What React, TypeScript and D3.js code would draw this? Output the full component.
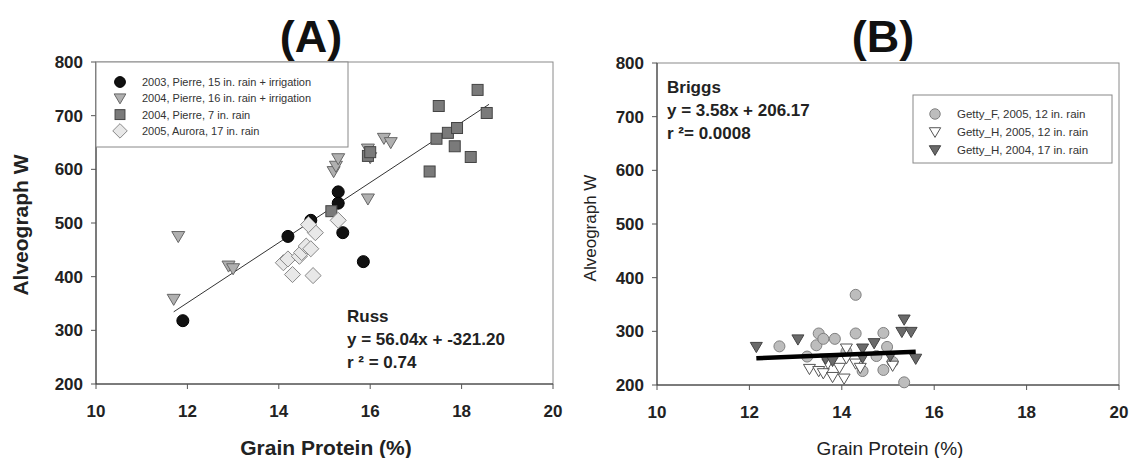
import * as d3 from 'd3'
import React from 'react'

// ---- data ----
const xTicks = [10, 12, 14, 16, 18, 20]
const yTicks = [200, 300, 400, 500, 600, 700, 800]

// panel A
const pierre2003 = [
  [11.9, 318], [14.2, 475], [14.7, 505], [15.3, 558], [15.3, 537], [15.4, 482], [15.85, 428]
]
const pierre2004irr = [
  [11.7, 358], [11.8, 475], [12.9, 420], [13.0, 415], [15.2, 596], [15.25, 606], [15.3, 620],
  [15.95, 545], [15.95, 638], [16.0, 622], [16.3, 658], [16.45, 650]
]
const pierre2004dry = [
  [15.15, 522], [15.95, 625], [16.0, 632], [17.3, 596], [17.45, 657], [17.5, 718], [17.7, 668],
  [17.85, 643], [17.9, 677], [18.2, 623], [18.35, 748], [18.55, 705]
]
const aurora2005 = [
  [14.1, 426], [14.2, 433], [14.3, 404], [14.45, 438], [14.5, 445], [14.6, 457], [14.7, 452],
  [14.75, 402], [14.8, 482], [14.65, 497], [15.3, 505]
]
const russRange = [11.7, 18.6]
const russFit = { slope: 56.04, intercept: -321.2 }

// panel B
const gettyF2005 = [
  [12.65, 272], [13.25, 253], [13.45, 274], [13.5, 296], [13.6, 286], [13.85, 286], [14.3, 368],
  [14.3, 296], [14.45, 226], [14.75, 254], [14.9, 297], [14.9, 228], [14.98, 271], [15.1, 243],
  [15.35, 205], [14.1, 262]
]
const gettyH2005 = [
  [13.3, 230], [13.5, 226], [13.6, 222], [13.8, 215], [13.95, 232], [14.05, 212], [14.1, 268],
  [14.1, 250], [14.3, 240], [14.4, 232], [15.1, 236], [13.7, 240]
]
const gettyH2004 = [
  [12.15, 271], [13.05, 285], [13.65, 249], [13.8, 245], [14.45, 268], [14.45, 251], [14.7, 278],
  [15.05, 254], [15.3, 299], [15.35, 322], [15.5, 299], [15.6, 249]
]
const briggsRange = [12.15, 15.6]
const briggsFit = { slope: 3.58, intercept: 206.17 }

const legendA = [
  '2003, Pierre, 15 in. rain + irrigation',
  '2004, Pierre, 16 in. rain + irrigation',
  '2004, Pierre, 7 in. rain',
  '2005, Aurora, 17 in. rain'
]
const legendB = ['Getty_F, 2005, 12 in. rain', 'Getty_H, 2005, 12 in. rain', 'Getty_H, 2004, 17 in. rain']

const FONT = "'Liberation Sans', Arial, sans-serif"

// marker shapes
const Marker = ({ kind, x, y, s, fill, stroke }: any) => {
  if (kind === 'circle') return <circle cx={x} cy={y} r={s / 2} fill={fill} stroke={stroke} strokeWidth={1} />
  if (kind === 'square')
    return <rect x={x - s / 2} y={y - s / 2} width={s} height={s} fill={fill} stroke={stroke} strokeWidth={1} />
  if (kind === 'diamond') {
    const h = s * 0.62
    return (
      <path d={`M${x},${y - h}L${x + h},${y}L${x},${y + h}L${x - h},${y}Z`} fill={fill} stroke={stroke} strokeWidth={1} />
    )
  }
  // down triangle
  const h = s * 0.5
  return (
    <path
      d={`M${x - h},${y - h * 0.75}L${x + h},${y - h * 0.75}L${x},${y + h * 0.95}Z`}
      fill={fill}
      stroke={stroke}
      strokeWidth={1}
    />
  )
}

const Axes = ({ x, y, bold }: any) => {
  const [x0, x1] = x.range()
  const [y0, y1] = y.range()
  return (
    <g fontFamily={FONT}>
      <rect x={x0} y={y1} width={x1 - x0} height={y0 - y1} fill='none' stroke='#8a8a8a' strokeWidth={1} />
      <line x1={x0} x2={x0} y1={y1} y2={y0} stroke='#333' />
      <line x1={x0} x2={x1} y1={y0} y2={y0} stroke='#333' />
      {yTicks.map((t) => (
        <g key={'y' + t}>
          <line x1={x0 - 5} x2={x0} y1={y(t)} y2={y(t)} stroke='#555' />
          <text x={x0 - 13} y={y(t) + 6} textAnchor='end' fontSize={17} fontWeight='bold' fill='#222'>
            {t}
          </text>
        </g>
      ))}
      {xTicks.map((t) => (
        <g key={'x' + t}>
          <line x1={x(t)} x2={x(t)} y1={y0} y2={y0 + 5} stroke='#555' />
          <text x={x(t)} y={y0 + 33} textAnchor='middle' fontSize={17} fontWeight='bold' fill='#222'>
            {t}
          </text>
        </g>
      ))}
    </g>
  )
}

export default function App() {
  const xA = d3.scaleLinear().domain([10, 20]).range([96, 553])
  const yA = d3.scaleLinear().domain([200, 800]).range([384, 62])
  const xB = d3.scaleLinear().domain([10, 20]).range([657, 1119])
  const yB = d3.scaleLinear().domain([200, 800]).range([385, 63])

  const fitLine = (x: any, y: any, range: number[], fit: any) =>
    d3.line<number>()
      .x((v) => x(v))
      .y((v) => y(fit.slope * v + fit.intercept))(range) || ''

  const seriesA = [
    { data: pierre2003, kind: 'circle', fill: '#111', stroke: '#000', s: 12 },
    { data: pierre2004irr, kind: 'tri', fill: '#b0b0b0', stroke: '#666', s: 13 },
    { data: pierre2004dry, kind: 'square', fill: '#7a7a7a', stroke: '#444', s: 11 },
    { data: aurora2005, kind: 'diamond', fill: '#e8e8e8', stroke: '#888', s: 13 }
  ]
  const seriesB = [
    { data: gettyF2005, kind: 'circle', fill: '#bdbdbd', stroke: '#808080', s: 11 },
    { data: gettyH2005, kind: 'tri', fill: '#ffffff', stroke: '#555', s: 12 },
    { data: gettyH2004, kind: 'tri', fill: '#6a6a6a', stroke: '#444', s: 12 }
  ]

  return (
    <svg
      width={1143}
      height={458}
      style={{ position: 'absolute', left: 0, top: 0, background: '#fff' }}
      fontFamily={FONT}
    >
      <rect width={1143} height={458} fill='#fff' />

      {/* ---------- panel A ---------- */}
      <text x={311} y={52} textAnchor='middle' fontSize={45} fontWeight='bold' fill='#111'>(A)</text>
      <Axes x={xA} y={yA} />
      <text
        transform={`translate(28,${225}) rotate(-90)`}
        textAnchor='middle'
        fontSize={21}
        fontWeight='bold'
        fill='#222'
      >
        Alveograph W
      </text>
      <text x={326} y={455} textAnchor='middle' fontSize={21} fontWeight='bold' fill='#222'>
        Grain Protein (%)
      </text>

      <path d={fitLine(xA, yA, russRange, russFit)} stroke='#333' strokeWidth={1} fill='none' />
      {seriesA.map((s, i) => (
        <g key={'sa' + i}>
          {s.data.map((d, j) => (
            <Marker key={j} kind={s.kind} x={xA(d[0])} y={yA(d[1])} s={s.s} fill={s.fill} stroke={s.stroke} />
          ))}
        </g>
      ))}

      <rect x={96} y={62} width={252} height={85} fill='#fff' stroke='#888' strokeWidth={1} />
      {legendA.map((t, i) => (
        <g key={'la' + i}>
          <Marker
            kind={seriesA[i].kind}
            x={120}
            y={82 + i * 16.3}
            s={seriesA[i].s * 0.9}
            fill={seriesA[i].fill}
            stroke={seriesA[i].stroke}
          />
          <text x={142} y={86 + i * 16.3} fontSize={11} fill='#333'>
            {t}
          </text>
        </g>
      ))}

      <g fontSize={17} fontWeight='bold' fill='#222'>
        <text x={347} y={322}>Russ</text>
        <text x={347} y={345}>y = 56.04x + -321.20</text>
        <text x={347} y={368}>r ² = 0.74</text>
      </g>

      {/* ---------- panel B ---------- */}
      <text x={883} y={52} textAnchor='middle' fontSize={45} fontWeight='bold' fill='#111'>(B)</text>
      <Axes x={xB} y={yB} />
      <text transform={`translate(596,${228}) rotate(-90)`} textAnchor='middle' fontSize={17} fill='#222'>
        Alveograph W
      </text>
      <text x={890} y={455} textAnchor='middle' fontSize={19} fill='#222'>
        Grain Protein (%)
      </text>

      {seriesB.map((s, i) => (
        <g key={'sb' + i}>
          {s.data.map((d, j) => (
            <Marker key={j} kind={s.kind} x={xB(d[0])} y={yB(d[1])} s={s.s} fill={s.fill} stroke={s.stroke} />
          ))}
        </g>
      ))}
      <path d={fitLine(xB, yB, briggsRange, briggsFit)} stroke='#000' strokeWidth={4.5} fill='none' />

      <rect x={913} y={95} width={199} height={68} fill='#fff' stroke='#888' strokeWidth={1} />
      {legendB.map((t, i) => (
        <g key={'lb' + i}>
          <Marker
            kind={seriesB[i].kind}
            x={935}
            y={114 + i * 18}
            s={seriesB[i].s * 0.95}
            fill={seriesB[i].fill}
            stroke={seriesB[i].stroke}
          />
          <text x={957} y={118 + i * 18} fontSize={11.5} fill='#333'>
            {t}
          </text>
        </g>
      ))}

      <g fontSize={17} fontWeight='bold' fill='#222'>
        <text x={667} y={93}>Briggs</text>
        <text x={667} y={116}>y = 3.58x + 206.17</text>
        <text x={667} y={139}>r ²= 0.0008</text>
      </g>
    </svg>
  )
}
